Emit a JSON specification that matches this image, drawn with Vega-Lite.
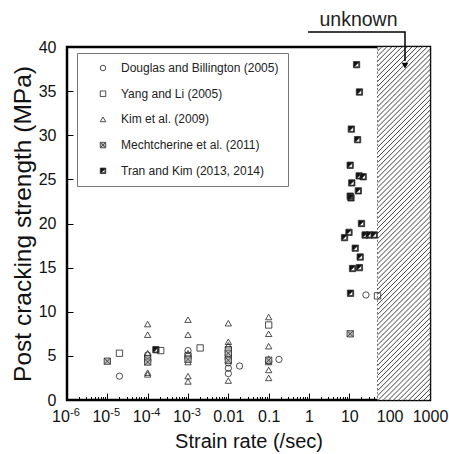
{
"$schema": "https://vega.github.io/schema/vega-lite/v6.json",
"width": 363, "height": 353,
"autosize": "none",
"padding": {"left": 67, "top": 47, "right": 19, "bottom": 54},
"config": {
  "font": "Liberation Sans",
  "view": {"stroke": "black", "strokeWidth": 2.5},
  "axis": {"labelFont": "Liberation Sans", "titleFont": "Liberation Sans", "titleFontWeight": "normal", "labelColor": "#111", "titleColor": "#111", "domain": false, "grid": false, "tickColor": "black", "tickWidth": 1, "labelFlush": false, "labelOverlap": false}
},
"datasets": {
  "pts": [
    {"x": 2e-5, "y": 2.7, "s": "Douglas and Billington (2005)"},
    {"x": 1e-4, "y": 5.1, "s": "Douglas and Billington (2005)"},
    {"x": 1e-3, "y": 5.6, "s": "Douglas and Billington (2005)"},
    {"x": 0.01, "y": 4.2, "s": "Douglas and Billington (2005)"},
    {"x": 0.01, "y": 3.6, "s": "Douglas and Billington (2005)"},
    {"x": 0.01, "y": 3.0, "s": "Douglas and Billington (2005)"},
    {"x": 0.019, "y": 3.85, "s": "Douglas and Billington (2005)"},
    {"x": 0.1, "y": 4.4, "s": "Douglas and Billington (2005)"},
    {"x": 0.18, "y": 4.6, "s": "Douglas and Billington (2005)"},
    {"x": 25.8, "y": 11.9, "s": "Douglas and Billington (2005)"},
    {"x": 2e-5, "y": 5.3, "s": "Yang and Li (2005)"},
    {"x": 1e-4, "y": 4.7, "s": "Yang and Li (2005)"},
    {"x": 2.1e-4, "y": 5.6, "s": "Yang and Li (2005)"},
    {"x": 1e-3, "y": 5.0, "s": "Yang and Li (2005)"},
    {"x": 2e-3, "y": 5.9, "s": "Yang and Li (2005)"},
    {"x": 0.01, "y": 5.7, "s": "Yang and Li (2005)"},
    {"x": 0.01, "y": 4.9, "s": "Yang and Li (2005)"},
    {"x": 0.1, "y": 8.5, "s": "Yang and Li (2005)"},
    {"x": 50, "y": 11.8, "s": "Yang and Li (2005)"},
    {"x": 1e-4, "y": 8.6, "s": "Kim et al. (2009)"},
    {"x": 1e-4, "y": 7.4, "s": "Kim et al. (2009)"},
    {"x": 1e-4, "y": 5.3, "s": "Kim et al. (2009)"},
    {"x": 1e-4, "y": 3.1, "s": "Kim et al. (2009)"},
    {"x": 1e-4, "y": 2.9, "s": "Kim et al. (2009)"},
    {"x": 1e-3, "y": 9.1, "s": "Kim et al. (2009)"},
    {"x": 1e-3, "y": 7.4, "s": "Kim et al. (2009)"},
    {"x": 1e-3, "y": 5.3, "s": "Kim et al. (2009)"},
    {"x": 1e-3, "y": 4.3, "s": "Kim et al. (2009)"},
    {"x": 1e-3, "y": 2.7, "s": "Kim et al. (2009)"},
    {"x": 1e-3, "y": 2.1, "s": "Kim et al. (2009)"},
    {"x": 0.01, "y": 8.7, "s": "Kim et al. (2009)"},
    {"x": 0.01, "y": 6.6, "s": "Kim et al. (2009)"},
    {"x": 0.01, "y": 6.2, "s": "Kim et al. (2009)"},
    {"x": 0.01, "y": 2.2, "s": "Kim et al. (2009)"},
    {"x": 0.1, "y": 9.4, "s": "Kim et al. (2009)"},
    {"x": 0.1, "y": 7.5, "s": "Kim et al. (2009)"},
    {"x": 0.1, "y": 6.1, "s": "Kim et al. (2009)"},
    {"x": 0.1, "y": 4.7, "s": "Kim et al. (2009)"},
    {"x": 0.1, "y": 4.3, "s": "Kim et al. (2009)"},
    {"x": 0.1, "y": 3.4, "s": "Kim et al. (2009)"},
    {"x": 0.1, "y": 2.5, "s": "Kim et al. (2009)"},
    {"x": 1e-5, "y": 4.4, "s": "Mechtcherine et al. (2011)"},
    {"x": 1e-4, "y": 4.3, "s": "Mechtcherine et al. (2011)"},
    {"x": 1e-3, "y": 4.6, "s": "Mechtcherine et al. (2011)"},
    {"x": 0.01, "y": 5.3, "s": "Mechtcherine et al. (2011)"},
    {"x": 0.01, "y": 4.5, "s": "Mechtcherine et al. (2011)"},
    {"x": 0.1, "y": 4.5, "s": "Mechtcherine et al. (2011)"},
    {"x": 10.5, "y": 7.5, "s": "Mechtcherine et al. (2011)"},
    {"x": 1.6e-4, "y": 5.7, "s": "Tran and Kim (2013, 2014)"},
    {"x": 15.1, "y": 38.0, "s": "Tran and Kim (2013, 2014)"},
    {"x": 17.8, "y": 34.9, "s": "Tran and Kim (2013, 2014)"},
    {"x": 11.2, "y": 30.7, "s": "Tran and Kim (2013, 2014)"},
    {"x": 16, "y": 29.5, "s": "Tran and Kim (2013, 2014)"},
    {"x": 10.5, "y": 26.6, "s": "Tran and Kim (2013, 2014)"},
    {"x": 17.5, "y": 25.4, "s": "Tran and Kim (2013, 2014)"},
    {"x": 22, "y": 25.3, "s": "Tran and Kim (2013, 2014)"},
    {"x": 11.5, "y": 24.6, "s": "Tran and Kim (2013, 2014)"},
    {"x": 16.7, "y": 23.7, "s": "Tran and Kim (2013, 2014)"},
    {"x": 10.5, "y": 23.1, "s": "Tran and Kim (2013, 2014)"},
    {"x": 11, "y": 22.9, "s": "Tran and Kim (2013, 2014)"},
    {"x": 20, "y": 20.0, "s": "Tran and Kim (2013, 2014)"},
    {"x": 9.8, "y": 19.0, "s": "Tran and Kim (2013, 2014)"},
    {"x": 7.6, "y": 18.4, "s": "Tran and Kim (2013, 2014)"},
    {"x": 24.6, "y": 18.7, "s": "Tran and Kim (2013, 2014)"},
    {"x": 31, "y": 18.7, "s": "Tran and Kim (2013, 2014)"},
    {"x": 41.5, "y": 18.7, "s": "Tran and Kim (2013, 2014)"},
    {"x": 14, "y": 17.2, "s": "Tran and Kim (2013, 2014)"},
    {"x": 18.6, "y": 16.2, "s": "Tran and Kim (2013, 2014)"},
    {"x": 12, "y": 14.9, "s": "Tran and Kim (2013, 2014)"},
    {"x": 17.8, "y": 15.0, "s": "Tran and Kim (2013, 2014)"},
    {"x": 10.7, "y": 12.1, "s": "Tran and Kim (2013, 2014)"}
  ]
},
"layer": [
  {
    "data": {"values": [{"x": 50, "x2": 1000, "y": 0, "y2": 40}]},
    "mark": {"type": "rect", "stroke": "#555", "strokeWidth": 0.8, "strokeDash": [2, 2],
      "fill": {"gradient": "linear", "x1": 0, "y1": 0, "x2": 0.167, "y2": 1.124, "stops": [
{"offset":0,"color":"#fff"},{"offset":0.0075,"color":"#fff"},{"offset":0.01,"color":"#444"},{"offset":0.0125,"color":"#fff"},{"offset":0.02,"color":"#fff"},{"offset":0.0225,"color":"#444"},{"offset":0.025,"color":"#fff"},{"offset":0.0325,"color":"#fff"},{"offset":0.035,"color":"#444"},{"offset":0.0375,"color":"#fff"},{"offset":0.045,"color":"#fff"},{"offset":0.0475,"color":"#444"},
{"offset":0.05,"color":"#fff"},{"offset":0.0575,"color":"#fff"},{"offset":0.06,"color":"#444"},{"offset":0.0625,"color":"#fff"},{"offset":0.07,"color":"#fff"},{"offset":0.0725,"color":"#444"},{"offset":0.075,"color":"#fff"},{"offset":0.0825,"color":"#fff"},{"offset":0.085,"color":"#444"},{"offset":0.0875,"color":"#fff"},{"offset":0.095,"color":"#fff"},{"offset":0.0975,"color":"#444"},
{"offset":0.1,"color":"#fff"},{"offset":0.1075,"color":"#fff"},{"offset":0.11,"color":"#444"},{"offset":0.1125,"color":"#fff"},{"offset":0.12,"color":"#fff"},{"offset":0.1225,"color":"#444"},{"offset":0.125,"color":"#fff"},{"offset":0.1325,"color":"#fff"},{"offset":0.135,"color":"#444"},{"offset":0.1375,"color":"#fff"},{"offset":0.145,"color":"#fff"},{"offset":0.1475,"color":"#444"},
{"offset":0.15,"color":"#fff"},{"offset":0.1575,"color":"#fff"},{"offset":0.16,"color":"#444"},{"offset":0.1625,"color":"#fff"},{"offset":0.17,"color":"#fff"},{"offset":0.1725,"color":"#444"},{"offset":0.175,"color":"#fff"},{"offset":0.1825,"color":"#fff"},{"offset":0.185,"color":"#444"},{"offset":0.1875,"color":"#fff"},{"offset":0.195,"color":"#fff"},{"offset":0.1975,"color":"#444"},
{"offset":0.2,"color":"#fff"},{"offset":0.2075,"color":"#fff"},{"offset":0.21,"color":"#444"},{"offset":0.2125,"color":"#fff"},{"offset":0.22,"color":"#fff"},{"offset":0.2225,"color":"#444"},{"offset":0.225,"color":"#fff"},{"offset":0.2325,"color":"#fff"},{"offset":0.235,"color":"#444"},{"offset":0.2375,"color":"#fff"},{"offset":0.245,"color":"#fff"},{"offset":0.2475,"color":"#444"},
{"offset":0.25,"color":"#fff"},{"offset":0.2575,"color":"#fff"},{"offset":0.26,"color":"#444"},{"offset":0.2625,"color":"#fff"},{"offset":0.27,"color":"#fff"},{"offset":0.2725,"color":"#444"},{"offset":0.275,"color":"#fff"},{"offset":0.2825,"color":"#fff"},{"offset":0.285,"color":"#444"},{"offset":0.2875,"color":"#fff"},{"offset":0.295,"color":"#fff"},{"offset":0.2975,"color":"#444"},
{"offset":0.3,"color":"#fff"},{"offset":0.3075,"color":"#fff"},{"offset":0.31,"color":"#444"},{"offset":0.3125,"color":"#fff"},{"offset":0.32,"color":"#fff"},{"offset":0.3225,"color":"#444"},{"offset":0.325,"color":"#fff"},{"offset":0.3325,"color":"#fff"},{"offset":0.335,"color":"#444"},{"offset":0.3375,"color":"#fff"},{"offset":0.345,"color":"#fff"},{"offset":0.3475,"color":"#444"},
{"offset":0.35,"color":"#fff"},{"offset":0.3575,"color":"#fff"},{"offset":0.36,"color":"#444"},{"offset":0.3625,"color":"#fff"},{"offset":0.37,"color":"#fff"},{"offset":0.3725,"color":"#444"},{"offset":0.375,"color":"#fff"},{"offset":0.3825,"color":"#fff"},{"offset":0.385,"color":"#444"},{"offset":0.3875,"color":"#fff"},{"offset":0.395,"color":"#fff"},{"offset":0.3975,"color":"#444"},
{"offset":0.4,"color":"#fff"},{"offset":0.4075,"color":"#fff"},{"offset":0.41,"color":"#444"},{"offset":0.4125,"color":"#fff"},{"offset":0.42,"color":"#fff"},{"offset":0.4225,"color":"#444"},{"offset":0.425,"color":"#fff"},{"offset":0.4325,"color":"#fff"},{"offset":0.435,"color":"#444"},{"offset":0.4375,"color":"#fff"},{"offset":0.445,"color":"#fff"},{"offset":0.4475,"color":"#444"},
{"offset":0.45,"color":"#fff"},{"offset":0.4575,"color":"#fff"},{"offset":0.46,"color":"#444"},{"offset":0.4625,"color":"#fff"},{"offset":0.47,"color":"#fff"},{"offset":0.4725,"color":"#444"},{"offset":0.475,"color":"#fff"},{"offset":0.4825,"color":"#fff"},{"offset":0.485,"color":"#444"},{"offset":0.4875,"color":"#fff"},{"offset":0.495,"color":"#fff"},{"offset":0.4975,"color":"#444"},
{"offset":0.5,"color":"#fff"},{"offset":0.5075,"color":"#fff"},{"offset":0.51,"color":"#444"},{"offset":0.5125,"color":"#fff"},{"offset":0.52,"color":"#fff"},{"offset":0.5225,"color":"#444"},{"offset":0.525,"color":"#fff"},{"offset":0.5325,"color":"#fff"},{"offset":0.535,"color":"#444"},{"offset":0.5375,"color":"#fff"},{"offset":0.545,"color":"#fff"},{"offset":0.5475,"color":"#444"},
{"offset":0.55,"color":"#fff"},{"offset":0.5575,"color":"#fff"},{"offset":0.56,"color":"#444"},{"offset":0.5625,"color":"#fff"},{"offset":0.57,"color":"#fff"},{"offset":0.5725,"color":"#444"},{"offset":0.575,"color":"#fff"},{"offset":0.5825,"color":"#fff"},{"offset":0.585,"color":"#444"},{"offset":0.5875,"color":"#fff"},{"offset":0.595,"color":"#fff"},{"offset":0.5975,"color":"#444"},
{"offset":0.6,"color":"#fff"},{"offset":0.6075,"color":"#fff"},{"offset":0.61,"color":"#444"},{"offset":0.6125,"color":"#fff"},{"offset":0.62,"color":"#fff"},{"offset":0.6225,"color":"#444"},{"offset":0.625,"color":"#fff"},{"offset":0.6325,"color":"#fff"},{"offset":0.635,"color":"#444"},{"offset":0.6375,"color":"#fff"},{"offset":0.645,"color":"#fff"},{"offset":0.6475,"color":"#444"},
{"offset":0.65,"color":"#fff"},{"offset":0.6575,"color":"#fff"},{"offset":0.66,"color":"#444"},{"offset":0.6625,"color":"#fff"},{"offset":0.67,"color":"#fff"},{"offset":0.6725,"color":"#444"},{"offset":0.675,"color":"#fff"},{"offset":0.6825,"color":"#fff"},{"offset":0.685,"color":"#444"},{"offset":0.6875,"color":"#fff"},{"offset":0.695,"color":"#fff"},{"offset":0.6975,"color":"#444"},
{"offset":0.7,"color":"#fff"},{"offset":0.7075,"color":"#fff"},{"offset":0.71,"color":"#444"},{"offset":0.7125,"color":"#fff"},{"offset":0.72,"color":"#fff"},{"offset":0.7225,"color":"#444"},{"offset":0.725,"color":"#fff"},{"offset":0.7325,"color":"#fff"},{"offset":0.735,"color":"#444"},{"offset":0.7375,"color":"#fff"},{"offset":0.745,"color":"#fff"},{"offset":0.7475,"color":"#444"},
{"offset":0.75,"color":"#fff"},{"offset":0.7575,"color":"#fff"},{"offset":0.76,"color":"#444"},{"offset":0.7625,"color":"#fff"},{"offset":0.77,"color":"#fff"},{"offset":0.7725,"color":"#444"},{"offset":0.775,"color":"#fff"},{"offset":0.7825,"color":"#fff"},{"offset":0.785,"color":"#444"},{"offset":0.7875,"color":"#fff"},{"offset":0.795,"color":"#fff"},{"offset":0.7975,"color":"#444"},
{"offset":0.8,"color":"#fff"},{"offset":0.8075,"color":"#fff"},{"offset":0.81,"color":"#444"},{"offset":0.8125,"color":"#fff"},{"offset":0.82,"color":"#fff"},{"offset":0.8225,"color":"#444"},{"offset":0.825,"color":"#fff"},{"offset":0.8325,"color":"#fff"},{"offset":0.835,"color":"#444"},{"offset":0.8375,"color":"#fff"},{"offset":0.845,"color":"#fff"},{"offset":0.8475,"color":"#444"},
{"offset":0.85,"color":"#fff"},{"offset":0.8575,"color":"#fff"},{"offset":0.86,"color":"#444"},{"offset":0.8625,"color":"#fff"},{"offset":0.87,"color":"#fff"},{"offset":0.8725,"color":"#444"},{"offset":0.875,"color":"#fff"},{"offset":0.8825,"color":"#fff"},{"offset":0.885,"color":"#444"},{"offset":0.8875,"color":"#fff"},{"offset":0.895,"color":"#fff"},{"offset":0.8975,"color":"#444"},
{"offset":0.9,"color":"#fff"},{"offset":0.9075,"color":"#fff"},{"offset":0.91,"color":"#444"},{"offset":0.9125,"color":"#fff"},{"offset":0.92,"color":"#fff"},{"offset":0.9225,"color":"#444"},{"offset":0.925,"color":"#fff"},{"offset":0.9325,"color":"#fff"},{"offset":0.935,"color":"#444"},{"offset":0.9375,"color":"#fff"},{"offset":0.945,"color":"#fff"},{"offset":0.9475,"color":"#444"},
{"offset":0.95,"color":"#fff"},{"offset":0.9575,"color":"#fff"},{"offset":0.96,"color":"#444"},{"offset":0.9625,"color":"#fff"},{"offset":0.97,"color":"#fff"},{"offset":0.9725,"color":"#444"},{"offset":0.975,"color":"#fff"},{"offset":0.9825,"color":"#fff"},{"offset":0.985,"color":"#444"},{"offset":0.9875,"color":"#fff"},{"offset":0.995,"color":"#fff"},{"offset":0.9975,"color":"#444"},
{"offset":1,"color":"#fff"}
      ]}},
    "encoding": {
      "x": {"field": "x", "type": "quantitative", "scale": {"type": "log", "domain": [1e-6, 1000]}},
      "x2": {"field": "x2"},
      "y": {"field": "y", "type": "quantitative", "scale": {"domain": [0, 40], "nice": false}},
      "y2": {"field": "y2"}
    }
  },
  {
    "data": {"name": "pts"},
    "mark": {"type": "point", "filled": true, "opacity": 1, "strokeWidth": 0.8, "size": 40},
    "encoding": {
      "x": {"field": "x", "type": "quantitative", "scale": {"type": "log", "domain": [1e-6, 1000]},
        "axis": {"title": "Strain rate (/sec)", "titleFontSize": 20, "titleY": 41, "titleBaseline": "middle", "labelFontSize": 16, "labelPadding": 15,
          "values": [1e-6,2e-6,3e-6,4e-6,5e-6,6e-6,7e-6,8e-6,9e-6,1e-5,2e-5,3e-5,4e-5,5e-5,6e-5,7e-5,8e-5,9e-5,1e-4,2e-4,3e-4,4e-4,5e-4,6e-4,7e-4,8e-4,9e-4,0.001,0.002,0.003,0.004,0.005,0.006,0.007,0.008,0.009,0.01,0.02,0.03,0.04,0.05,0.06,0.07,0.08,0.09,0.1,0.2,0.3,0.4,0.5,0.6,0.7,0.8,0.9,1,2,3,4,5,6,7,8,9,10,20,30,40,50,60,70,80,90,100,200,300,400,500,600,700,800,900,1000],
          "tickSize": {"condition": {"test": "abs(log(datum.value)/LN10 - round(log(datum.value)/LN10)) < 0.001", "value": -7}, "value": -3.5},
          "labelOffset": {"condition": {"test": "datum.value < 0.005", "value": -6.5}, "value": 0},
          "labelExpr": "abs(log(datum.value)/LN10 - round(log(datum.value)/LN10)) > 0.001 ? '' : (round(log(datum.value)/LN10) < -2 ? '10' : format(datum.value, '~g'))"}},
      "y": {"field": "y", "type": "quantitative", "scale": {"domain": [0, 40], "nice": false},
        "axis": {"title": "Post cracking strength (MPa)", "titleFontSize": 24.5, "titleX": -44, "titleBaseline": "middle", "labelFontSize": 16, "labelPadding": 17, "tickSize": -6,
          "values": [0, 5, 10, 15, 20, 25, 30, 35, 40]}},
      "shape": {"field": "s", "type": "nominal",
        "scale": {"domain": ["Douglas and Billington (2005)", "Yang and Li (2005)", "Kim et al. (2009)", "Mechtcherine et al. (2011)", "Tran and Kim (2013, 2014)"],
          "range": ["circle", "square", "triangle-up", "M-1,-1H1V1H-1Z M-1,-1L1,1 M1,-1L-1,1", "M-1,-1H1V1H-1Z M0.7,-0.7L-0.7,0.7H0.7Z"]},
        "legend": {"title": null, "orient": "none", "legendX": 10, "legendY": 6, "padding": 9, "strokeColor": "#777", "fillColor": "white", "labelFontSize": 12, "labelFont": "Liberation Sans", "labelColor": "#222", "symbolSize": 30, "symbolStrokeWidth": 0.8, "rowPadding": 13.7, "symbolOffset": 11, "labelOffset": 12}},
      "fill": {"field": "s", "type": "nominal",
        "scale": {"domain": ["Douglas and Billington (2005)", "Yang and Li (2005)", "Kim et al. (2009)", "Mechtcherine et al. (2011)", "Tran and Kim (2013, 2014)"],
          "range": ["transparent", "transparent", "transparent", "#bbb", "#111"]},
        "legend": {"title": null, "orient": "none", "legendX": 10, "legendY": 6, "padding": 9, "strokeColor": "#777", "fillColor": "white", "labelFontSize": 12, "labelFont": "Liberation Sans", "labelColor": "#222", "symbolSize": 30, "symbolStrokeWidth": 0.8, "rowPadding": 13.7, "symbolOffset": 11, "labelOffset": 12}},
      "stroke": {"field": "s", "type": "nominal",
        "scale": {"domain": ["Douglas and Billington (2005)", "Yang and Li (2005)", "Kim et al. (2009)", "Mechtcherine et al. (2011)", "Tran and Kim (2013, 2014)"],
          "range": ["#222", "#222", "#222", "#333", "#333"]},
        "legend": {"title": null, "orient": "none", "legendX": 10, "legendY": 6, "padding": 9, "strokeColor": "#777", "fillColor": "white", "labelFontSize": 12, "labelFont": "Liberation Sans", "labelColor": "#222", "symbolSize": 30, "symbolStrokeWidth": 0.8, "rowPadding": 13.7, "symbolOffset": 11, "labelOffset": 12}}
    }
  },
  {
    "data": {"values": [{"x": 1e-6, "y": -1.45, "e": "-6"}, {"x": 1e-5, "y": -1.45, "e": "-5"}, {"x": 1e-4, "y": -1.45, "e": "-4"}, {"x": 1e-3, "y": -1.45, "e": "-3"}]},
    "mark": {"type": "text", "fontSize": 11, "font": "Liberation Sans", "color": "#111", "align": "left", "baseline": "middle", "dx": 3},
    "encoding": {
      "x": {"field": "x", "type": "quantitative", "scale": {"type": "log", "domain": [1e-6, 1000]}},
      "y": {"field": "y", "type": "quantitative", "scale": {"domain": [0, 40], "nice": false}},
      "text": {"field": "e"}
    }
  },
  {
    "data": {"values": [{"x": 0.95, "y": 41.7, "o": 1}, {"x": 240, "y": 41.7, "o": 2}, {"x": 240, "y": 38.4, "o": 3}]},
    "mark": {"type": "line", "color": "black", "strokeWidth": 1.5},
    "encoding": {
      "x": {"field": "x", "type": "quantitative", "scale": {"type": "log", "domain": [1e-6, 1000]}},
      "y": {"field": "y", "type": "quantitative", "scale": {"domain": [0, 40], "nice": false}},
      "order": {"field": "o", "type": "quantitative"}
    }
  },
  {
    "data": {"values": [{"x": 240, "y": 37.9}]},
    "mark": {"type": "point", "shape": "triangle-down", "filled": true, "color": "black", "opacity": 1, "size": 45},
    "encoding": {
      "x": {"field": "x", "type": "quantitative", "scale": {"type": "log", "domain": [1e-6, 1000]}},
      "y": {"field": "y", "type": "quantitative", "scale": {"domain": [0, 40], "nice": false}}
    }
  },
  {
    "data": {"values": [{"x": 16.9, "y": 43.06, "t": "unknown"}]},
    "mark": {"type": "text", "fontSize": 19.5, "font": "Liberation Sans", "color": "#222", "baseline": "middle", "align": "center"},
    "encoding": {
      "x": {"field": "x", "type": "quantitative", "scale": {"type": "log", "domain": [1e-6, 1000]}},
      "y": {"field": "y", "type": "quantitative", "scale": {"domain": [0, 40], "nice": false}},
      "text": {"field": "t"}
    }
  }
]
}
